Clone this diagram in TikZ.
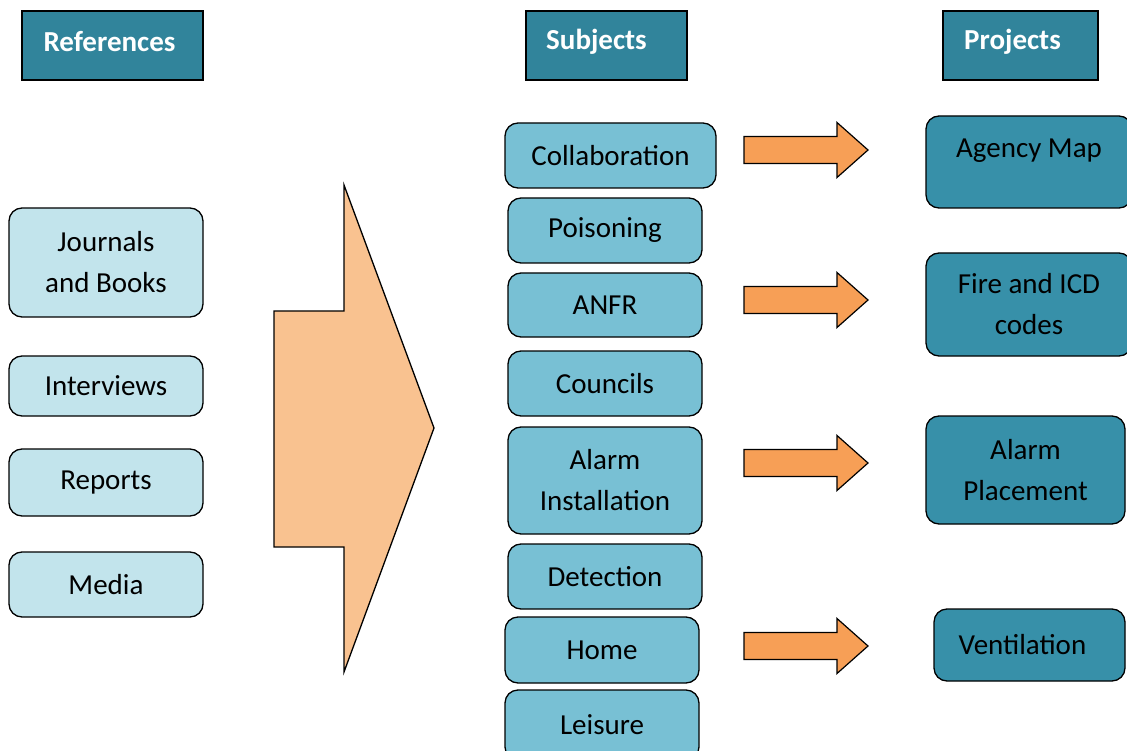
\documentclass[tikz,border=0pt]{standalone}
\usepackage{fontspec}
\setmainfont{Carlito}
\definecolor{hdr}{HTML}{31849B}
\definecolor{lightb}{HTML}{C2E4EC}
\definecolor{midb}{HTML}{78C0D4}
\definecolor{darkb}{HTML}{3790A9}
\definecolor{orng}{HTML}{F79F56}
\definecolor{peach}{HTML}{F9C290}
\begin{document}
\begin{tikzpicture}[x=1pt,y=-1pt,
  every node/.style={font=\fontsize{29}{41}\selectfont, align=center, inner sep=0pt},
  header/.style={draw=black, line width=2pt, fill=hdr, minimum height=69pt},
  hdrtext/.style={text=white, font=\fontsize{29}{41}\selectfont\bfseries},
  refbox/.style={draw=black, line width=1.3pt, fill=lightb, rounded corners=13pt},
  subbox/.style={draw=black, line width=1.3pt, fill=midb, rounded corners=13pt},
  projbox/.style={draw=black, line width=1.3pt, fill=darkb, rounded corners=13pt},
  orangearr/.style={draw=black, line width=1.2pt, fill=orng},
]
\useasboundingbox (0,0) rectangle (1127,751);
% headers
\node[header, minimum width=181pt, label={[hdrtext, xshift=-3pt, yshift=4pt]center:References}] (hr) at (112.5,45.5) {};
\node[header, minimum width=161pt, label={[hdrtext, xshift=-10pt, yshift=4pt]center:Subjects}] (hs) at (606.5,45.5) {};
\node[header, minimum width=155pt, label={[hdrtext, xshift=-8pt, yshift=4pt]center:Projects}] (hp) at (1020.5,45.5) {};
% references
\node[refbox, minimum width=194pt, minimum height=109pt] (jb) at (106,262.5) {Journals\\and Books};
\node[refbox, minimum width=194pt, minimum height=60pt] (iv) at (106,386) {Interviews};
\node[refbox, minimum width=194pt, minimum height=67pt] (rp) at (106,482.5) {Reports};
\node[refbox, minimum width=194pt, minimum height=65pt] (md) at (106,584.5) {Media};
% big arrow
\draw[line width=1.3pt, fill=peach] (274,311) -- (344,311) -- (344,185) -- (434,428) -- (344,672) -- (344,547) -- (274,547) -- cycle;
% subjects
\node[subbox, minimum width=211pt, minimum height=65pt] (co) at (610.5,155.5) {Collaboration};
\node[subbox, minimum width=194pt, minimum height=65pt] (po) at (605,230.5) {Poisoning};
\node[subbox, minimum width=194pt, minimum height=64pt] (an) at (605,305) {ANFR};
\node[subbox, minimum width=194pt, minimum height=65pt] (cn) at (605,383.5) {Councils};
\node[subbox, minimum width=194pt, minimum height=107pt] (ai) at (605,480.5) {Alarm\\Installation};
\node[subbox, minimum width=194pt, minimum height=65pt] (de) at (605,576.5) {Detection};
\node[subbox, minimum width=194pt, minimum height=66pt] (ho) at (602,650) {Home};
\node[subbox, minimum width=194pt, minimum height=70pt] (le) at (602,725) {Leisure};
% projects
\node[projbox, minimum width=206pt, minimum height=92pt, label={[yshift=11pt]center:Agency Map}] (am) at (1029,162) {};
\node[projbox, minimum width=206pt, minimum height=103pt] (fi) at (1029,304.5) {Fire and ICD\\codes};
\node[projbox, minimum width=199pt, minimum height=108pt] (ap) at (1025.5,470) {Alarm\\Placement};
\node[projbox, minimum width=191pt, minimum height=72pt] (ve) at (1029.5,645) {\hspace*{-14pt}Ventilation};
% orange arrows
\foreach \y in {150,300,463,646}{
  \draw[orangearr] (744,\y-13.5) -- (837,\y-13.5) -- (837,\y-27.5) -- (868,\y) -- (837,\y+27.5) -- (837,\y+13.5) -- (744,\y+13.5) -- cycle;
}
\end{tikzpicture}
\end{document}
